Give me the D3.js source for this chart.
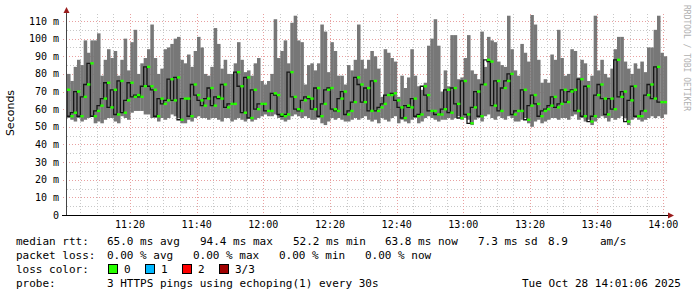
<!DOCTYPE html>
<html lang="en">
<head>
<meta charset="utf-8">
<script src="https://d3js.org/d3.v7.min.js"></script>
<style>
  body { margin: 0; background: #fff; }
  text { font-family: "DejaVu Sans Mono", monospace; }
</style>
</head>
<body>
<svg id="chart" width="697" height="297"></svg>
<script>
// one sample per minute, 180 minutes ending at the graph time
const startTime = new Date(2025, 9, 28, 11, 1, 6)
const endTime = new Date(2025, 9, 28, 14, 1, 6)
const stepSeconds = 60

// max / median / min rtt per step, in ms
const maxRtt = [80,76,84,88,85,99,92,99,99,103,79,88,94,89,93,79,88,100,82,98,105,80,86,89,94,108,89,80,83,94,95,97,100,101,88,86,91,84,93,101,95,80,79,84,106,
  97,83,88,80,80,86,98,88,81,82,79,86,89,76,74,76,80,111,89,93,99,86,109,113,99,98,74,85,86,82,86,108,104,81,98,93,79,79,74,85,82,88,108,88,83,
  88,93,90,83,67,94,92,89,87,67,79,72,78,94,79,73,71,75,96,100,111,96,70,82,73,102,102,77,78,89,102,82,80,77,104,84,101,99,98,87,85,84,113,94,82,
  79,97,92,87,114,108,88,75,77,75,91,88,105,89,79,80,94,93,78,88,86,76,79,113,82,88,80,78,83,94,101,101,87,83,80,86,83,87,81,95,95,105,113,92,90]
const medianRtt = [71,56,58,70,56,67,74,86,56,59,62,66,75,61,71,57,76,58,65,75,67,68,67,73,84,73,71,56,66,63,65,77,65,78,54,66,66,56,74,68,65,62,66,72,62,
  67,66,74,61,63,63,81,73,58,78,55,71,60,63,63,59,59,69,68,57,56,57,81,67,60,59,65,67,66,60,72,56,63,71,72,60,59,66,70,57,59,64,78,74,64,
  72,59,76,59,61,63,68,68,69,65,61,55,62,61,66,56,57,73,68,59,59,57,57,60,71,58,72,63,55,76,57,52,61,70,56,74,88,87,62,76,59,72,76,80,57,
  59,59,71,54,62,68,63,56,59,60,62,67,61,63,71,64,70,71,59,77,56,73,53,56,68,74,66,57,66,60,88,67,70,53,65,73,56,56,59,68,74,66,84,64,64]
const minRtt = [55,54,53,55,53,54,55,56,52,53,52,54,55,55,53,52,56,55,54,58,59,59,59,57,57,55,55,53,55,54,55,57,56,55,52,52,54,53,55,56,55,55,54,55,55,
  54,53,55,55,53,54,55,54,53,55,53,54,55,56,57,56,56,57,55,54,53,54,56,57,56,55,56,55,54,54,55,52,51,53,55,54,55,54,53,53,54,55,54,55,56,
  54,53,54,52,55,54,53,55,56,52,54,53,52,54,55,52,53,55,56,55,54,53,54,54,55,54,55,56,54,55,54,51,54,55,53,56,57,55,54,56,55,54,56,55,53,
  53,54,55,52,50,53,54,52,53,54,55,55,54,55,55,54,56,57,54,55,53,54,51,53,55,56,55,53,55,54,55,56,55,51,54,55,54,53,54,55,56,55,56,55,57]

const yTicks = [0, 10, 20, 30, 40, 50, 60, 70, 80, 90, 100, 110]
const yTickLabels = ["0", "10 m", "20 m", "30 m", "40 m", "50 m", "60 m", "70 m", "80 m", "90 m", "100 m", "110 m"]

const lossLabels = ["0", "1", "2", "3/3"]
const lossColors = ["#26ff00", "#00b8ff", "#ff0000", "#a00000"]

const legendRows = [
  [["median rtt:", 16], ["65.0 ms avg", 107], ["94.4 ms max", 200], ["52.2 ms min", 293], ["63.8 ms now", 385], ["7.3 ms sd", 478], ["8.9", 548], ["am/s", 600]],
  [["packet loss:", 16], ["0.00 % avg", 107], ["0.00 % max", 193], ["0.00 % min", 279], ["0.00 % now", 365]],
  [["loss color:", 16]],
  [["probe:", 16], ["3 HTTPS pings using echoping(1) every 30s", 107], ["Tue Oct 28 14:01:06 2025", 522]]
]

const svg = d3.select("#chart")
const plotLeft = 67, plotRight = 667, plotTop = 15, plotBottom = 215

const x = d3.scaleTime().domain([startTime, endTime]).range([plotLeft, plotRight])
const y = d3.scaleLinear().domain([0, 200 / 1.7636]).range([plotBottom, plotTop])
const yMax = y.domain()[1]

const data = maxRtt.map((mx, i) => ({
  t0: new Date(startTime.getTime() + i * stepSeconds * 1000),
  t1: new Date(startTime.getTime() + (i + 1) * stepSeconds * 1000),
  max: mx, med: medianRtt[i], min: minRtt[i]
}))

// grid
const grid = svg.append("g")
const minorY = d3.range(5, 115, 10)
grid.selectAll(".hminor").data(minorY).enter().append("line")
  .attr("x1", plotLeft).attr("x2", plotRight)
  .attr("y1", d => Math.round(y(d)) + 0.5).attr("y2", d => Math.round(y(d)) + 0.5)
  .attr("stroke", "#c8c8c8").attr("stroke-dasharray", "1,2")
const minorX = d3.timeMinute.every(5).range(startTime, endTime).filter(d => d.getMinutes() % 20 != 0)
grid.selectAll(".vminor").data(minorX).enter().append("line")
  .attr("x1", d => Math.round(x(d)) + 0.5).attr("x2", d => Math.round(x(d)) + 0.5)
  .attr("y1", 14).attr("y2", plotBottom)
  .attr("stroke", "#c8c8c8").attr("stroke-dasharray", "1,2")
grid.selectAll(".hmajor").data(yTicks.slice(1)).enter().append("line")
  .attr("x1", plotLeft - 4).attr("x2", plotRight)
  .attr("y1", d => Math.round(y(d)) + 0.5).attr("y2", d => Math.round(y(d)) + 0.5)
  .attr("stroke", "#e8a0a0").attr("stroke-dasharray", "1,2")
const majorX = d3.timeMinute.every(20).range(startTime, endTime)
grid.selectAll(".vmajor").data(majorX).enter().append("line")
  .attr("x1", d => Math.round(x(d)) + 0.5).attr("x2", d => Math.round(x(d)) + 0.5)
  .attr("y1", 14).attr("y2", plotBottom + 2)
  .attr("stroke", "#e8a0a0").attr("stroke-dasharray", "1,2")

// smoke
svg.append("g").selectAll("rect").data(data).enter().append("rect")
  .attr("x", d => x(d.t0)).attr("width", d => x(d.t1) - x(d.t0) + 0.2)
  .attr("y", d => y(Math.min(d.max, yMax))).attr("height", d => y(d.min) - y(Math.min(d.max, yMax)))
  .attr("fill", "#777777")

// median: dark step line, green segments on top
const stepPath = d3.line().curve(d3.curveStepBefore).x(d => x(d.t0)).y(d => y(d.med))
svg.append("path").datum(data).attr("d", stepPath)
  .attr("fill", "none").attr("stroke", "#161616").attr("stroke-width", 1.3)
svg.append("g").selectAll("line").data(data).enter().append("line")
  .attr("x1", d => x(d.t0)).attr("x2", d => x(d.t1))
  .attr("y1", d => y(d.med)).attr("y2", d => y(d.med))
  .attr("stroke", lossColors[0]).attr("stroke-width", 2.4)

// axes
svg.append("line").attr("x1", plotLeft - 0.5).attr("x2", plotLeft - 0.5).attr("y1", 11).attr("y2", plotBottom)
  .attr("stroke", "#444")
svg.append("line").attr("x1", plotLeft - 5).attr("x2", plotRight + 2).attr("y1", plotBottom + 0.5).attr("y2", plotBottom + 0.5)
  .attr("stroke", "#000")
svg.append("path").attr("d", `M${plotLeft - 3.5},13 L${plotLeft - 0.5},7 L${plotLeft + 2.5},13 Z`).attr("fill", "#9a1c1c")
svg.append("path").attr("d", `M${plotRight + 1},${plotBottom - 2.5} L${plotRight + 7},${plotBottom + 0.5} L${plotRight + 1},${plotBottom + 3.5} Z`).attr("fill", "#9a1c1c")

svg.append("g").selectAll("text").data(yTicks).enter().append("text")
  .attr("x", 59).attr("y", d => y(d)).attr("dy", "0.35em")
  .attr("text-anchor", "end").attr("font-size", 10).attr("fill", "#000")
  .text((d, i) => yTickLabels[i])

svg.append("g").selectAll("text").data(majorX).enter().append("text")
  .attr("x", d => x(d)).attr("y", 228)
  .attr("text-anchor", "middle").attr("font-size", 10).attr("fill", "#000")
  .text(d3.timeFormat("%H:%M"))

svg.append("text").attr("transform", "translate(14,113) rotate(-90)")
  .attr("text-anchor", "middle").attr("font-size", 11)
  .style("font-family", "'DejaVu Sans', sans-serif").text("Seconds")

svg.append("text").attr("transform", "translate(684,5) rotate(90)")
  .attr("font-size", 8).attr("fill", "#b0b0b0").text("RRDTOOL / TOBI OETIKER")

// legend
legendRows.forEach((row, r) => {
  svg.append("g").selectAll("text").data(row).enter().append("text")
    .attr("x", d => d[1]).attr("y", 245 + r * 14)
    .attr("font-size", 11).attr("fill", "#000")
    .attr("xml:space", "preserve").text(d => d[0])
})
const swatch = svg.append("g").selectAll("g").data(lossLabels).enter().append("g")
  .attr("transform", (d, i) => `translate(${108 + i * 37},264)`)
swatch.append("rect").attr("x", 0.5).attr("y", 0.5).attr("width", 9).attr("height", 9)
  .attr("fill", (d, i) => lossColors[i]).attr("stroke", "#000")
swatch.append("text").attr("x", 16).attr("y", 9).attr("font-size", 11).text(d => d)
</script>
</body>
</html>
